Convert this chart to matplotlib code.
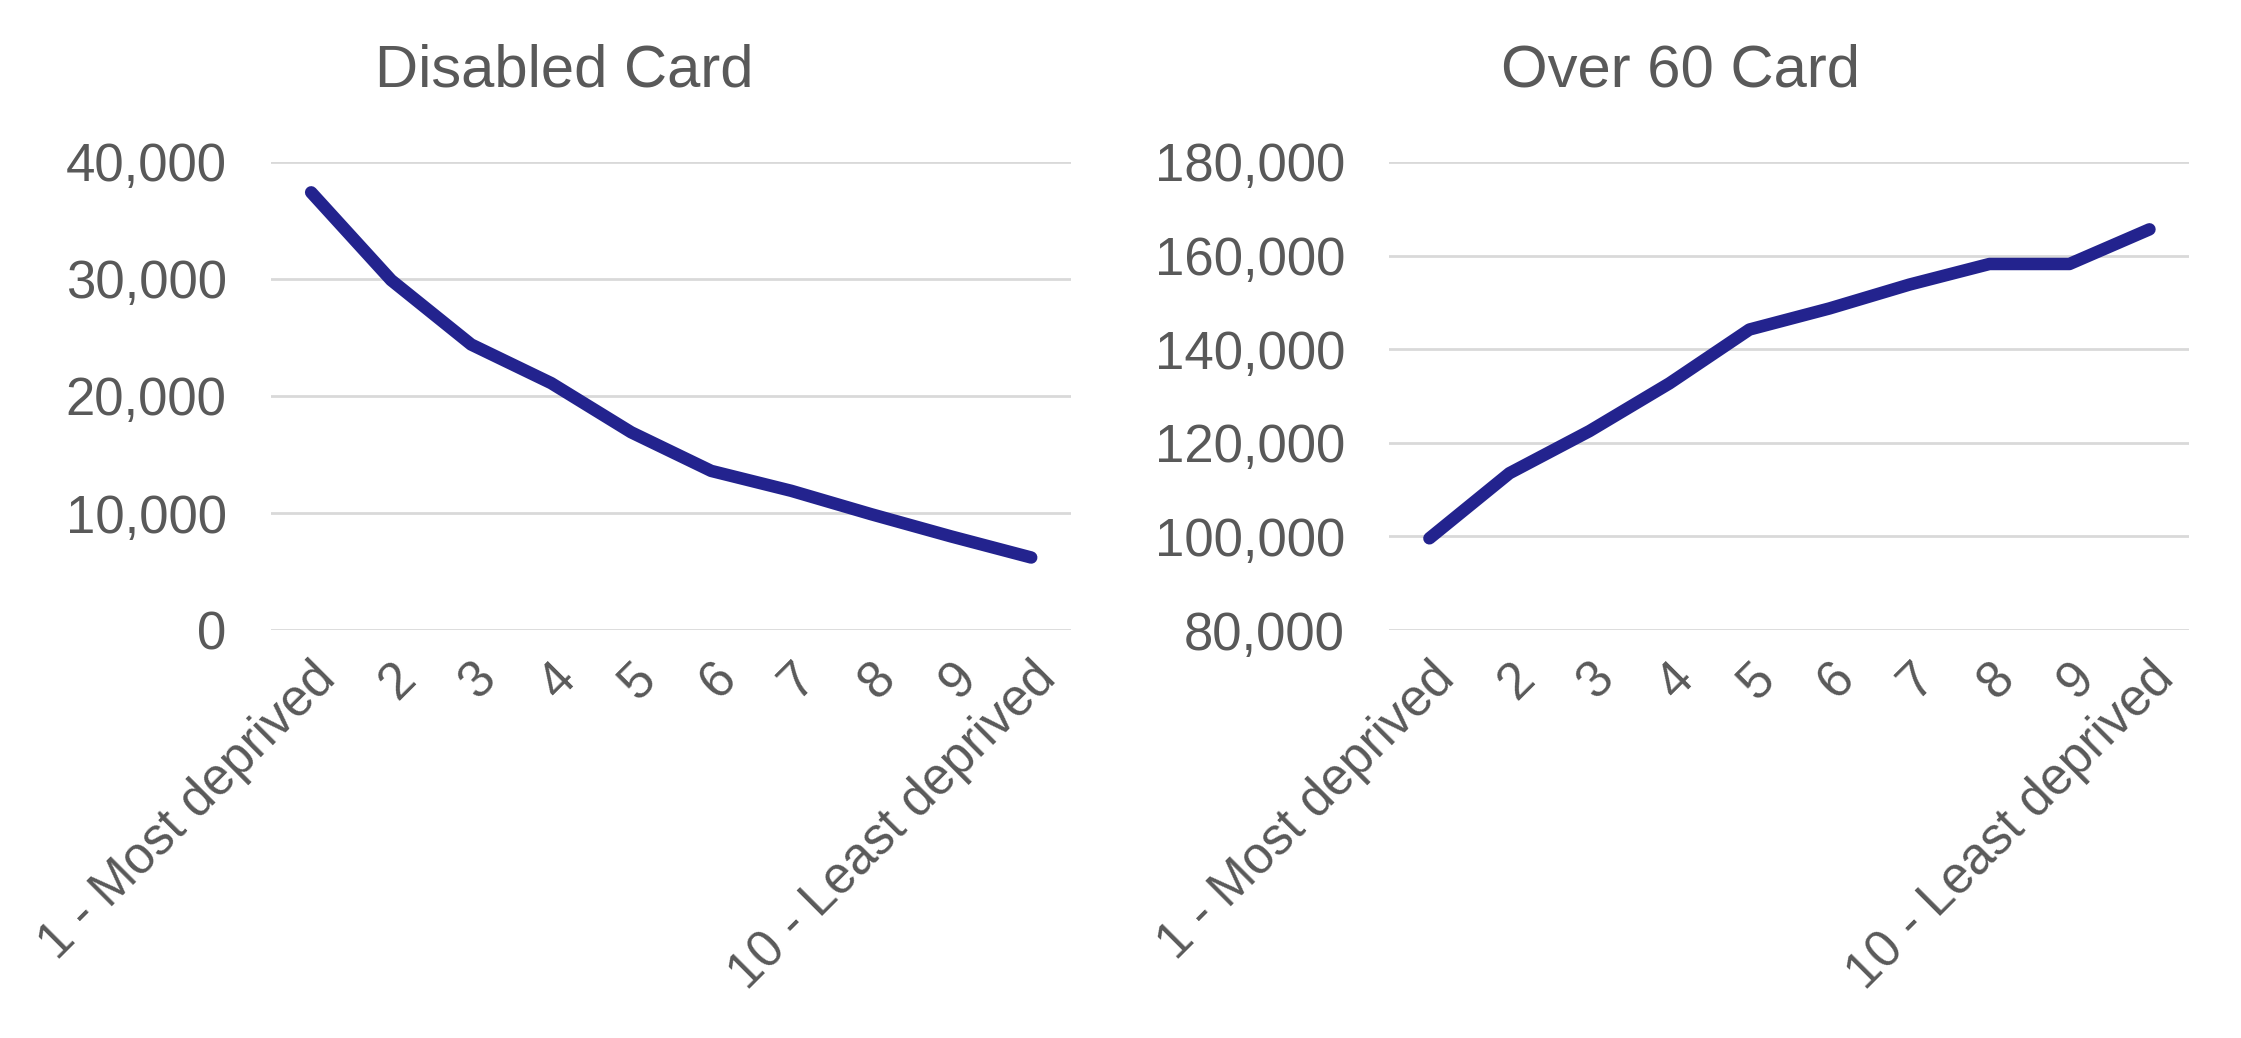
import matplotlib.pyplot as plt
from matplotlib.ticker import FuncFormatter

plt.rcParams['font.family'] = ['Liberation Sans', 'DejaVu Sans']

# deprivation deciles
categories = ['1 - Most deprived', '2', '3', '4', '5', '6', '7', '8', '9', '10 - Least deprived']

# card holders per decile
disabled = [37400, 29900, 24400, 21100, 16900, 13600, 11900, 9900, 8000, 6200]
over60 = [99600, 113500, 122500, 132700, 144200, 148700, 153800, 158200, 158200, 165600]

grey = '#595959'
navy = '#23238E'

fig = plt.figure(figsize=(22.41, 10.38), dpi=100)

def panel(rect, values, ylim, step, title, title_x):
    ax = fig.add_axes(rect)
    x = range(len(categories))
    ax.plot(x, values, color=navy, linewidth=9, solid_capstyle='round', solid_joinstyle='round')
    ax.set_xlim(-0.5, len(categories) - 0.5)
    ax.set_ylim(*ylim)
    ax.set_yticks(range(ylim[0], ylim[1] + 1, step))
    ax.yaxis.set_major_formatter(FuncFormatter(lambda v, p: f'{int(v):,}'))
    ax.set_xticks(list(x))
    ax.set_xticklabels(categories, rotation=45, ha='right', va='top', rotation_mode='anchor')
    ax.grid(axis='y', color='#D9D9D9', linewidth=2)
    ax.set_axisbelow(True)
    for s in ax.spines.values():
        s.set_visible(False)
    ax.tick_params(axis='both', length=0, labelsize=38, labelcolor=grey)
    ax.tick_params(axis='y', pad=32)
    ax.tick_params(axis='x', labelsize=37, pad=17)
    fig.text(title_x, 0.932, title, ha='center', va='center', fontsize=43, color=grey)
    return ax

panel([0.121, 0.393, 0.357, 0.451], disabled, (0, 40000), 10000, 'Disabled Card', 0.252)
panel([0.620, 0.393, 0.357, 0.451], over60, (80000, 180000), 20000, 'Over 60 Card', 0.75)

fig.savefig('out.png', dpi=100)
